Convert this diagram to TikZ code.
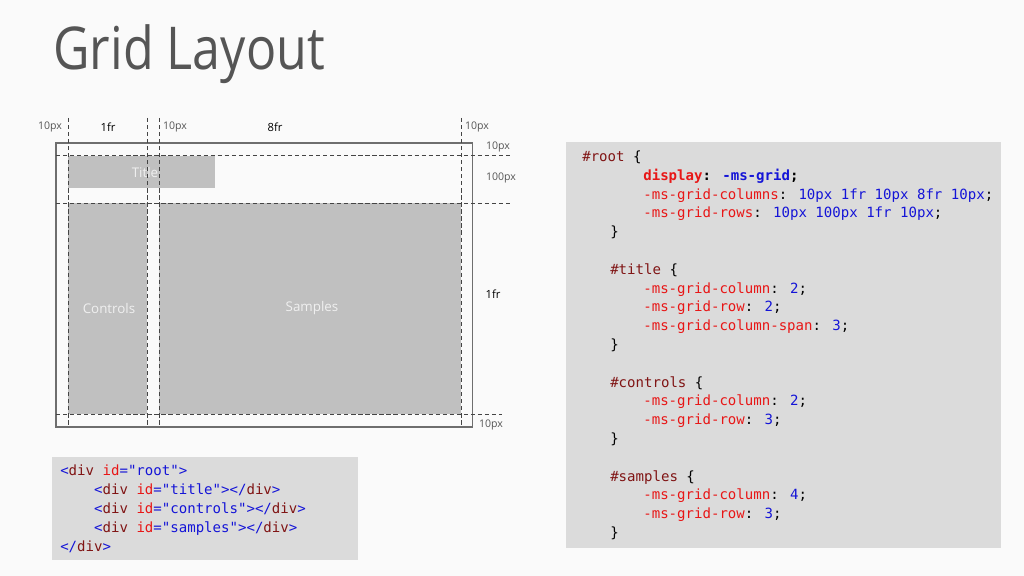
\documentclass[tikz,border=0pt]{standalone}
\usepackage{fontspec}
\setmainfont{Open Sans}
\newfontfamily\titrefont{Open Sans}[FakeStretch=0.85]
\newfontfamily\codefont{DejaVu Sans Mono}
\definecolor{fondpage}{RGB}{250,250,250}
\definecolor{fondcode}{RGB}{219,219,219}
\definecolor{cellule}{RGB}{192,192,192}
\definecolor{trait}{RGB}{110,110,110}
\definecolor{texte}{RGB}{85,85,85}
\definecolor{rougeprop}{RGB}{232,22,22}
\definecolor{bleuval}{RGB}{20,20,215}
\definecolor{bordeaux}{RGB}{128,20,20}
\newcommand{\cprop}[1]{\textcolor{rougeprop}{#1}}
\newcommand{\cval}[1]{\textcolor{bleuval}{#1}}
\newcommand{\csel}[1]{\textcolor{bordeaux}{#1}}
\newcommand{\qt}{\symbol{34}}
\begin{document}
\begin{tikzpicture}[x=0.025cm,y=-0.025cm, % une unite = un pixel
  guide/.style={color=texte!80!black,thin,dash pattern=on 3pt off 2pt},
  mesure/.style={font=\fontsize{7.5}{9}\selectfont,text=texte,inner sep=0pt},
  fraction/.style={mesure,font=\fontsize{8}{9}\selectfont,text=black},
  nomcase/.style={font=\fontsize{9.5}{11}\selectfont,text=white!94!black,inner sep=0pt},
  code/.style={font=\fontsize{10}{13.37}\codefont,align=left,inner sep=0pt,anchor=north west}]
\useasboundingbox (0,0) rectangle (1024,576);
\fill[fondpage] (0,0) rectangle (1024,576); % le fond
\node[font=\fontsize{42}{48}\titrefont,text=texte,inner sep=0pt,anchor=base west] (titre) at (53,70) {Grid Layout};
% les cases de la grille
\fill[cellule] (68,156) rectangle (215,188);
\fill[cellule] (68,203) rectangle (147,414);
\fill[cellule] (159,203) rectangle (461,414);
\node[nomcase] (title) at (145,172) {Title};
\node[nomcase] (controls) at (109,308) {Controls};
\node[nomcase] (samples) at (312,308) {Samples};
\draw[color=trait,line width=1.1pt] (56,143) rectangle (472.5,427); % le cadre
% les lignes de la grille
\draw[guide] (68,118)--(68,425);
\draw[guide] (147,118)--(147,425);
\draw[guide] (159,118)--(159,425);
\draw[guide] (461,118)--(461,425);
\draw[guide] (56,155)--(512,155);
\draw[guide] (56,203)--(510,203);
\draw[guide] (56,414)--(502,414);
% les dimensions
\node[mesure] (col1) at (50,127) {10px};
\node[fraction] (col2) at (108,127) {1fr};
\node[mesure] (col3) at (175,127) {10px};
\node[fraction] (col4) at (275,127) {8fr};
\node[mesure] (col5) at (477,127) {10px};
\node[mesure] (lig1) at (498,147) {10px};
\node[mesure] (lig2) at (501,178) {100px};
\node[fraction] (lig3) at (493,294) {1fr};
\node[mesure] (lig4) at (491,425) {10px};
% le code html
\fill[fondcode] (52,457) rectangle (358,560);
\node[code] (html) at (60,465) {%
\cval{<}\csel{div} \cprop{id}\cval{=\qt root\qt>}\\
\hspace*{24.1pt}\cval{<}\csel{div} \cprop{id}\cval{=\qt title\qt></}\csel{div}\cval{>}\\
\hspace*{24.1pt}\cval{<}\csel{div} \cprop{id}\cval{=\qt controls\qt></}\csel{div}\cval{>}\\
\hspace*{24.1pt}\cval{<}\csel{div} \cprop{id}\cval{=\qt samples\qt></}\csel{div}\cval{>}\\
\cval{</}\csel{div}\cval{>}};
% le code css
\fill[fondcode] (566,142) rectangle (1001,548);
\node[code] (css) at (582,150.5) {%
\csel{\#root} \{\\
\hspace*{43.4pt}\textbf{\cprop{display}: \cval{-ms-grid};}\\
\hspace*{43.4pt}\cprop{-ms-grid-columns}: \cval{10px 1fr 10px 8fr 10px};\\
\hspace*{43.4pt}\cprop{-ms-grid-rows}: \cval{10px 100px 1fr 10px};\\
\hspace*{19.9pt}\}\\[13.37pt]
\hspace*{19.9pt}\csel{\#title} \{\\
\hspace*{43.4pt}\cprop{-ms-grid-column}: \cval{2};\\
\hspace*{43.4pt}\cprop{-ms-grid-row}: \cval{2};\\
\hspace*{43.4pt}\cprop{-ms-grid-column-span}: \cval{3};\\
\hspace*{19.9pt}\}\\[13.37pt]
\hspace*{19.9pt}\csel{\#controls} \{\\
\hspace*{43.4pt}\cprop{-ms-grid-column}: \cval{2};\\
\hspace*{43.4pt}\cprop{-ms-grid-row}: \cval{3};\\
\hspace*{19.9pt}\}\\[13.37pt]
\hspace*{19.9pt}\csel{\#samples} \{\\
\hspace*{43.4pt}\cprop{-ms-grid-column}: \cval{4};\\
\hspace*{43.4pt}\cprop{-ms-grid-row}: \cval{3};\\
\hspace*{19.9pt}\}};
\end{tikzpicture}
\end{document}
